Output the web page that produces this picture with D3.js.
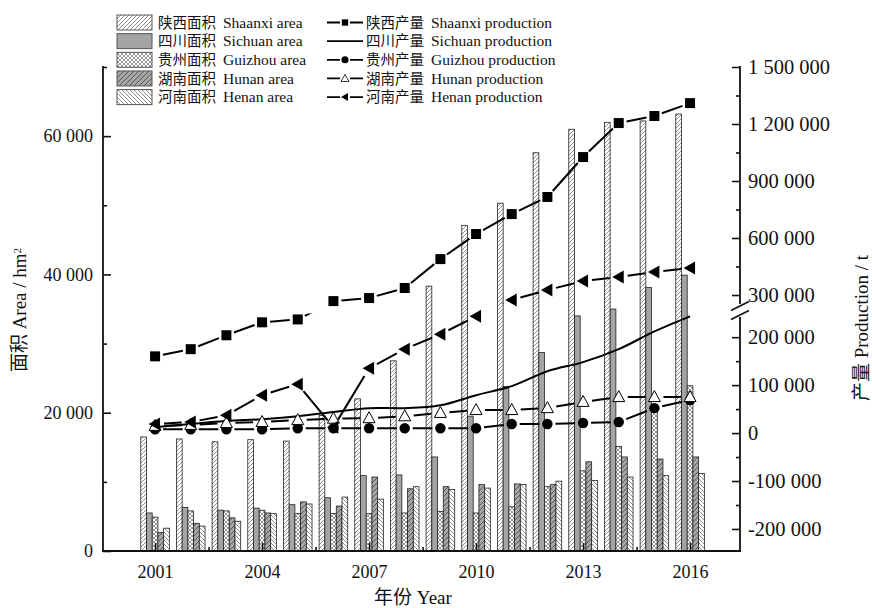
<!DOCTYPE html>
<html>
<head>
<meta charset="utf-8">
<script src="https://cdn.jsdelivr.net/npm/d3@7"></script>
<style>
  body { margin: 0; background: #fff; }
  text { font-family: "Liberation Serif", "Noto Sans CJK SC", serif; fill: #111; }
</style>
</head>
<body>
<script>
// ---- data ----
const years = [2001, 2002, 2003, 2004, 2005, 2006, 2007, 2008, 2009, 2010, 2011, 2012, 2013, 2014, 2015, 2016];
const provinces = ["Shaanxi", "Sichuan", "Guizhou", "Hunan", "Henan"];
const provincesCn = ["陕西", "四川", "贵州", "湖南", "河南"];

// planting area, hm2
const areaShaanxi = [16500, 16200, 15800, 16100, 15900, 19600, 22000, 27500, 38300, 47100, 50300, 57600, 61000, 62000, 62200, 63200];
const areaSichuan = [5500, 6300, 5900, 6200, 6700, 7700, 10900, 11000, 13600, 19500, 23800, 28700, 34000, 35000, 38100, 39900];
const areaGuizhou = [4900, 5800, 5800, 5900, 5400, 5400, 5400, 5500, 5700, 5500, 6400, 9300, 11600, 15100, 21000, 23900];
const areaHunan   = [2700, 4000, 4800, 5500, 7100, 6500, 10700, 9000, 9300, 9600, 9700, 9600, 12900, 13600, 13300, 13600];
const areaHenan   = [3300, 3600, 4300, 5400, 6800, 7800, 7500, 9300, 8900, 9100, 9600, 10100, 10200, 10700, 10900, 11200];

// production, t
const prodShaanxi = [160000, 175000, 204000, 231000, 237000, 268000, 284000, 337000, 489000, 621000, 726000, 816000, 1026000, 1205000, 1242000, 1310000];
const prodSichuan = [12000, 19000, 25000, 29000, 35000, 44000, 52000, 52000, 58000, 79000, 98000, 129000, 148000, 175000, 212000, 242000];
const prodGuizhou = [8000, 8000, 8000, 8000, 10000, 10000, 10000, 10000, 10000, 10000, 19000, 19000, 21000, 23000, 52000, 69000];
const prodHunan   = [15000, 17000, 21000, 23000, 27000, 30000, 31000, 35000, 42000, 48000, 48000, 52000, 65000, 75000, 75000, 75000];
const prodHenan   = [19000, 23000, 37000, 79000, 102000, 12000, 135000, 175000, 206000, 242000, 274000, 326000, 374000, 395000, 421000, 442000];

// ticks
const xTickYears = [2001, 2004, 2007, 2010, 2013, 2016];
const xMinorYears = [2002.5, 2005.5, 2008.5, 2011.5, 2014.5];
const leftTicks = [0, 20000, 40000, 60000];
const leftMinor = [10000, 30000, 50000, 70000];
const rightTicksLow = [-200000, -100000, 0, 100000, 200000];
const rightMinorLow = [-150000, -50000, 50000, 150000];
const rightTicksHigh = [300000, 600000, 900000, 1200000, 1500000];
const rightMinorHigh = [450000, 750000, 1050000, 1350000];

const areaSeries = [areaShaanxi, areaSichuan, areaGuizhou, areaHunan, areaHenan];

// ---- layout ----
const W = 872, H = 608;
const svg = d3.select("body").append("svg").attr("width", W).attr("height", H);

const x = d3.scaleLinear().domain([1999.54, 2017.40]).range([103, 740]);
const yL = d3.scaleLinear().domain([0, 70000]).range([551, 67]);
// right axis with a break between 240 000 and 258 000
const yR = d3.scaleLinear().domain([-246000, 240000, 258000, 1500000]).range([551, 318, 303, 67]);
const inner = d3.scaleBand().domain(provinces).range([-14.3, 14.3]).padding(0);

const loc = d3.formatLocale({ decimal: ".", thousands: " ", grouping: [3], currency: ["", ""], minus: "-" });
const fmt = loc.format(",");

// ---- patterns ----
const defs = svg.append("defs");
function hatch(id, bg, d, size, stroke, sw) {
  const p = defs.append("pattern").attr("id", id).attr("patternUnits", "userSpaceOnUse")
    .attr("width", size).attr("height", size);
  p.append("rect").attr("width", size).attr("height", size).attr("fill", bg);
  p.append("path").attr("d", d).attr("stroke", stroke).attr("stroke-width", sw).attr("fill", "none");
}
hatch("pShaanxi", "#fff", "M-1,1L1,-1M0,4L4,0M3,5L5,3", 4, "#444", 0.6);
hatch("pGuizhou", "#fff", "M-1,1L1,-1M0,4L4,0M3,5L5,3M-1,3L1,5M0,0L4,4M3,-1L5,1", 4, "#444", 0.55);
hatch("pHunan", "#a6a6a6", "M-1,1L1,-1M0,5L5,0M4,6L6,4", 5, "#333", 0.7);
hatch("pHenan", "#fff", "M-1,3L1,5M0,0L4,4M3,-1L5,1", 4, "#444", 0.6);
const fills = ["url(#pShaanxi)", "#a4a4a4", "url(#pGuizhou)", "url(#pHunan)", "url(#pHenan)"];

defs.append("clipPath").attr("id", "brk").call(c => {
  c.append("rect").attr("x", 0).attr("y", 0).attr("width", W).attr("height", 303.5);
  c.append("rect").attr("x", 0).attr("y", 313.5).attr("width", W).attr("height", H);
});

// ---- bars ----
const barG = svg.append("g");
provinces.forEach((p, k) => {
  barG.selectAll(null)
    .data(years.map((yr, i) => ({ yr, v: areaSeries[k][i] })))
    .enter().append("rect")
    .attr("x", d => x(d.yr) + inner(p))
    .attr("y", d => yL(d.v))
    .attr("width", inner.bandwidth())
    .attr("height", d => yL(0) - yL(d.v))
    .attr("fill", fills[k])
    .attr("stroke", "#222")
    .attr("stroke-width", 0.8);
});

// ---- axes ----
const axG = svg.append("g");
function styleAxis(size) {
  return g => {
    g.select(".domain").remove();
    g.selectAll(".tick line").attr("stroke", "#111").attr("stroke-width", 1.6);
    g.selectAll(".tick text").style("font-size", size + "px").attr("fill", "#111");
  };
}
// bottom
axG.append("g").attr("transform", "translate(0,551)")
  .call(d3.axisBottom(x).tickValues(xTickYears).tickSize(-8).tickPadding(14).tickFormat(d3.format("d")))
  .call(styleAxis(18));
axG.append("g").attr("transform", "translate(0,551)")
  .call(d3.axisBottom(x).tickValues(xMinorYears).tickSize(-4).tickFormat(""))
  .call(styleAxis(18));
// left
axG.append("g").attr("transform", "translate(103,0)")
  .call(d3.axisLeft(yL).tickValues(leftTicks).tickSize(-8).tickPadding(10).tickFormat(fmt))
  .call(styleAxis(18));
axG.append("g").attr("transform", "translate(103,0)")
  .call(d3.axisLeft(yL).tickValues(leftMinor).tickSize(-4).tickFormat(""))
  .call(styleAxis(18));
// right
[[rightTicksLow, -8, fmt], [rightTicksHigh, -8, fmt], [rightMinorLow, -4, ""], [rightMinorHigh, -4, ""]]
  .forEach(([tv, ts, tf]) => {
    axG.append("g").attr("transform", "translate(740,0)")
      .call(d3.axisRight(yR).tickValues(tv).tickSize(ts).tickPadding(8).tickFormat(tf))
      .call(styleAxis(20.5));
  });
// axis lines
const axisLines = [
  [x.range()[0], yL(0), x.range()[1], yL(0)],
  [103, yL(0), 103, yL(70000)],
  [740, yR(-246000), 740, yR(240000)],
  [740, yR(258000), 740, yR(1500000)]
];
axG.selectAll(null).data(axisLines).enter().append("line")
  .attr("x1", d => d[0]).attr("y1", d => d[1]).attr("x2", d => d[2]).attr("y2", d => d[3])
  .attr("stroke", "#111").attr("stroke-width", 1.8).attr("stroke-linecap", "square");
// break marks
[yR(258000) + 3, yR(240000) - 3].forEach(yy => {
  axG.append("line").attr("x1", 731).attr("y1", yy + 4.5).attr("x2", 749).attr("y2", yy - 4.5)
    .attr("stroke", "#111").attr("stroke-width", 1.6);
});

// ---- production lines ----
const lineG = svg.append("g").attr("clip-path", "url(#brk)");
const markG = svg.append("g");

function pts(vals) { return years.map((yr, i) => [x(yr), yR(vals[i])]); }
function gapped(vals, gap) {
  return d3.pairs(pts(vals)).map(([a, b]) => {
    const dx = b[0] - a[0], dy = b[1] - a[1], L = Math.hypot(dx, dy);
    if (L <= 2 * gap) return null;
    const ux = dx / L, uy = dy / L;
    return [a[0] + ux * gap, a[1] + uy * gap, b[0] - ux * gap, b[1] - uy * gap];
  }).filter(Boolean);
}
function drawSegs(vals, gap) {
  lineG.selectAll(null).data(gapped(vals, gap)).enter().append("line")
    .attr("x1", d => d[0]).attr("y1", d => d[1]).attr("x2", d => d[2]).attr("y2", d => d[3])
    .attr("stroke", "#000").attr("stroke-width", 2);
}

const symSquare = d3.symbol().type(d3.symbolSquare).size(100);
const symCircle = d3.symbol().type(d3.symbolCircle).size(85);
const triUp = "M0,-6.5L6,4.5L-6,4.5Z";
const triLeft = "M-6.5,0L5,-6.5L5,6.5Z";

drawSegs(prodGuizhou, 8);
drawSegs(prodHunan, 9);
drawSegs(prodHenan, 9);
drawSegs(prodShaanxi, 8);
lineG.append("path").datum(pts(prodSichuan))
  .attr("d", d3.line().curve(d3.curveCatmullRom.alpha(0.5)))
  .attr("fill", "none").attr("stroke", "#000").attr("stroke-width", 2);

function marks(vals, path, fill, stroke) {
  markG.selectAll(null).data(pts(vals)).enter().append("path")
    .attr("transform", d => `translate(${d[0]},${d[1]})`)
    .attr("d", path).attr("fill", fill).attr("stroke", stroke).attr("stroke-width", 1);
}
marks(prodGuizhou, symCircle(), "#000", "none");
marks(prodHunan, triUp, "#fff", "#000");
marks(prodHenan, triLeft, "#000", "none");
marks(prodShaanxi, symSquare(), "#000", "none");

// ---- legend ----
const lg = svg.append("g");
const rowY = d => 22.5 + d * 18.65;
provinces.forEach((p, k) => {
  lg.append("rect").attr("x", 117).attr("y", rowY(k) - 7.5).attr("width", 35).attr("height", 15)
    .attr("fill", fills[k]).attr("stroke", "#555").attr("stroke-width", 1);
  lg.append("text").attr("x", 158).attr("y", rowY(k)).attr("dy", "0.36em")
    .style("font-size", "14.5px").text(provincesCn[k] + "面积");
  lg.append("text").attr("x", 223).attr("y", rowY(k)).attr("dy", "0.34em")
    .style("font-size", "15.5px").text(p + " area");

  lg.append("line").attr("x1", 327).attr("x2", 363).attr("y1", rowY(k)).attr("y2", rowY(k))
    .attr("stroke", "#000").attr("stroke-width", 1.8);
  lg.append("text").attr("x", 366).attr("y", rowY(k)).attr("dy", "0.36em")
    .style("font-size", "14.5px").text(provincesCn[k] + "产量");
  lg.append("text").attr("x", 431).attr("y", rowY(k)).attr("dy", "0.34em")
    .style("font-size", "15.5px").text(p + " production");
});
const legSyms = [
  { k: 0, d: d3.symbol().type(d3.symbolSquare).size(40)(), fill: "#000", stroke: "none" },
  { k: 2, d: d3.symbol().type(d3.symbolCircle).size(40)(), fill: "#000", stroke: "none" },
  { k: 3, d: "M0,-4L4,3L-4,3Z", fill: "#fff", stroke: "#000" },
  { k: 4, d: "M-4,0L3,-4L3,4Z", fill: "#000", stroke: "none" }
];
legSyms.forEach(s => {
  lg.append("rect").attr("x", 340).attr("y", rowY(s.k) - 5).attr("width", 10).attr("height", 10).attr("fill", "#fff");
  lg.append("path").attr("transform", `translate(345,${rowY(s.k)})`).attr("d", s.d)
    .attr("fill", s.fill).attr("stroke", s.stroke).attr("stroke-width", 0.8);
});

// ---- axis titles ----
svg.append("text").attr("transform", "translate(26,310) rotate(-90)").attr("text-anchor", "middle")
  .style("font-size", "19px")
  .call(t => {
    t.append("tspan").text("面积 Area / hm");
    t.append("tspan").attr("dy", "-0.5em").style("font-size", "11px").text("2");
  });
svg.append("text").attr("transform", "translate(868,328) rotate(-90)").attr("text-anchor", "middle")
  .style("font-size", "19px").text("产量 Production / t");
svg.append("text").attr("x", 413).attr("y", 604).attr("text-anchor", "middle")
  .style("font-size", "19px").text("年份 Year");
</script>
</body>
</html>
